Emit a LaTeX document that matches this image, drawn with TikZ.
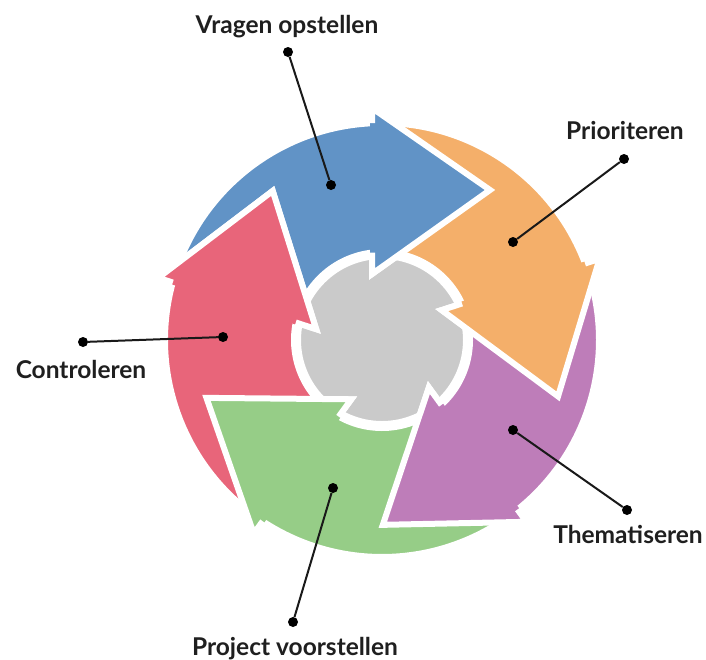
\documentclass[tikz,border=0pt]{standalone}
\usepackage{fontspec}
\setmainfont{Lato}
\definecolor{cblue}{RGB}{97,147,198}
\definecolor{corange}{RGB}{244,175,106}
\definecolor{cpurple}{RGB}{190,125,185}
\definecolor{cgreen}{RGB}{150,205,135}
\definecolor{cred}{RGB}{232,101,122}
\definecolor{cgray}{RGB}{202,202,202}
\begin{document}
\begin{tikzpicture}[x=1pt,y=1pt,
  lab/.style={font=\bfseries\fontsize{24.5}{28}\selectfont, anchor=base, inner sep=0pt, text=black!88},
  dot/.style={circle, fill=black, inner sep=0pt, minimum size=10pt},
  leader/.style={line width=2pt, black!90},
  rim/.style={white, line width=6pt, line join=miter},
]
\useasboundingbox (0,0) rectangle (706,-659);
\fill[white] (0,0) rectangle (706,-659);

\begin{scope}[shift={(382,-340)}]
  \fill[cgray] (0,0) circle (84);
  \draw[rim] (0,0) circle (84);
  % bands with heads
  \foreach \k/\c in {0/cblue,1/corange,2/cpurple,3/cgreen,4/cred}{
    \begin{scope}[rotate=-72*\k]
      \fill[\c] (164.64:217) arc[start angle=164.64, end angle=92.64, radius=217]
        -- (-10,232) -- (108,150) -- (-10,66) -- (96.52:88)
        arc[start angle=96.52, end angle=168.52, radius=88] -- cycle;
      \draw[rim] (164.64:217) arc[start angle=164.64, end angle=92.64, radius=217]
        -- (-10,232) -- (108,150) -- (-10,66) -- (96.52:88)
        arc[start angle=96.52, end angle=168.52, radius=88];
    \end{scope}
  }
  % heads on top
  \foreach \k/\c in {0/cblue,1/corange,2/cpurple,3/cgreen,4/cred}{
    \begin{scope}[rotate=-72*\k]
      \fill[\c] (-10,232) -- (108,150) -- (-10,66) -- (-12,66) -- (-12,232) -- cycle;
      \draw[rim] (92.64:217) -- (-10,232) -- (108,150) -- (-10,66) -- (96.52:88);
    \end{scope}
  }
\end{scope}

% leaders
\node[dot] (a1) at (288,-52) {};
\node[dot] (b1) at (331,-185) {};
\draw[leader] (a1) -- (b1);
\node[dot] (a2) at (624,-159) {};
\node[dot] (b2) at (513,-242) {};
\draw[leader] (a2) -- (b2);
\node[dot] (a3) at (83,-342) {};
\node[dot] (b3) at (223,-337) {};
\draw[leader] (a3) -- (b3);
\node[dot] (a4) at (627,-510) {};
\node[dot] (b4) at (513,-430) {};
\draw[leader] (a4) -- (b4);
\node[dot] (a5) at (293,-622) {};
\node[dot] (b5) at (333,-488) {};
\draw[leader] (a5) -- (b5);

% labels
\node[lab] (t1) at (287,-33) {Vragen opstellen};
\node[lab] (t2) at (625,-139) {Prioriteren};
\node[lab] (t3) at (81,-378) {Controleren};
\node[lab] (t4) at (628,-543) {Thematiseren};
\node[lab] (t5) at (295,-655) {Project voorstellen};
\end{tikzpicture}
\end{document}
